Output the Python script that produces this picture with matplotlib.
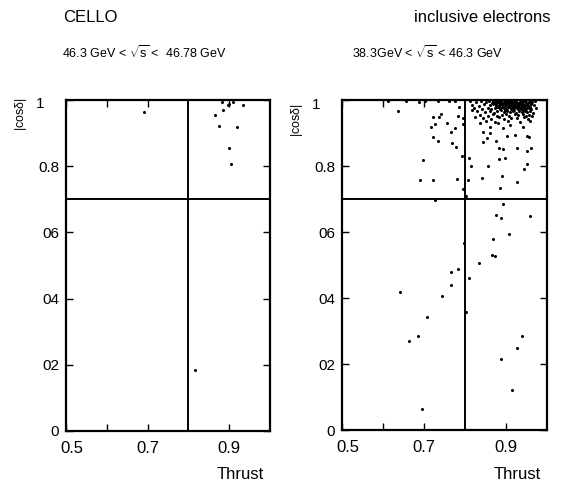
import matplotlib
matplotlib.use("Agg")
import matplotlib.pyplot as plt
from matplotlib.transforms import ScaledTranslation

plt.rcParams['font.family'] = ['Liberation Sans Narrow', 'Liberation Sans', 'DejaVu Sans']
plt.rcParams['mathtext.fontset'] = 'custom'
plt.rcParams['mathtext.rm'] = 'Liberation Sans'
plt.rcParams['mathtext.it'] = 'Liberation Sans'

# left panel: 46.3 < sqrt(s) < 46.78 GeV  (thrust, |cos theta|)
pts_left = [
    (0.690, 0.965), (0.883, 0.994), (0.896, 0.984), (0.899, 0.989), (0.909, 0.994),
    (0.933, 0.984), (0.864, 0.956), (0.884, 0.969), (0.874, 0.921), (0.918, 0.917),
    (0.900, 0.856), (0.905, 0.806), (0.815, 0.184),
]

# right panel: 38.3 < sqrt(s) < 46.3 GeV, sparse part
pts_right = [
    (0.637, 0.966), (0.689, 0.994), (0.721, 0.948), (0.741, 0.959), (0.737, 0.948),
    (0.727, 0.928), (0.717, 0.918), (0.755, 0.931), (0.782, 0.952), (0.786, 0.979),
    (0.794, 0.928), (0.776, 0.915), (0.765, 0.903), (0.723, 0.888), (0.735, 0.875),
    (0.768, 0.870), (0.777, 0.858), (0.792, 0.830), (0.697, 0.817), (0.690, 0.757),
    (0.723, 0.757), (0.781, 0.762), (0.796, 0.730), (0.796, 0.944),
    (0.612, 0.998), (0.655, 0.997), (0.702, 0.998), (0.735, 0.997), (0.760, 0.998),
    (0.775, 0.996),
    (0.810, 0.825), (0.815, 0.801), (0.808, 0.758), (0.841, 0.765), (0.857, 0.801),
    (0.885, 0.732), (0.890, 0.771), (0.884, 0.820), (0.898, 0.823), (0.883, 0.854),
    (0.893, 0.852), (0.928, 0.854), (0.950, 0.845), (0.960, 0.854), (0.952, 0.805),
    (0.945, 0.790), (0.926, 0.751), (0.845, 0.902), (0.861, 0.899), (0.845, 0.874),
    (0.853, 0.884), (0.875, 0.876), (0.902, 0.891), (0.922, 0.894), (0.950, 0.891),
    (0.956, 0.889), (0.861, 0.919), (0.881, 0.929), (0.893, 0.914), (0.910, 0.924),
    (0.942, 0.919), (0.824, 0.949), (0.837, 0.929), (0.816, 0.970), (0.802, 0.710),
    (0.728, 0.697),
    (0.892, 0.684), (0.875, 0.652), (0.887, 0.643), (0.959, 0.648), (0.907, 0.593),
    (0.868, 0.578), (0.867, 0.529), (0.874, 0.527), (0.835, 0.505), (0.810, 0.460),
    (0.797, 0.566), (0.784, 0.487), (0.765, 0.479), (0.765, 0.439), (0.745, 0.407),
    (0.641, 0.419), (0.708, 0.343), (0.686, 0.286), (0.664, 0.271), (0.694, 0.063),
    (0.802, 0.359), (0.940, 0.285), (0.928, 0.249), (0.887, 0.214), (0.915, 0.121),
]

# right panel, dense cluster near thrust 0.9, |cos| ~ 1
pts_cluster = [
    (0.812, 0.996), (0.826, 0.993), (0.838, 0.997), (0.851, 0.994), (0.858, 0.998),
    (0.866, 0.992), (0.872, 0.996), (0.879, 0.999), (0.884, 0.993), (0.889, 0.997),
    (0.893, 0.991), (0.897, 0.995), (0.902, 0.998), (0.906, 0.992), (0.911, 0.996),
    (0.915, 0.999), (0.919, 0.993), (0.924, 0.997), (0.928, 0.991), (0.933, 0.995),
    (0.937, 0.998), (0.942, 0.993), (0.947, 0.996), (0.953, 0.992), (0.958, 0.997),
    (0.964, 0.994), (0.971, 0.998),
    (0.818, 0.986), (0.833, 0.983), (0.846, 0.987), (0.861, 0.984), (0.869, 0.988),
    (0.876, 0.982), (0.882, 0.986), (0.887, 0.989), (0.892, 0.983), (0.899, 0.987),
    (0.904, 0.984), (0.909, 0.988), (0.913, 0.982), (0.917, 0.986), (0.922, 0.989),
    (0.926, 0.983), (0.931, 0.987), (0.936, 0.984), (0.940, 0.988), (0.945, 0.982),
    (0.951, 0.986), (0.957, 0.983), (0.962, 0.987), (0.968, 0.984),
    (0.823, 0.976), (0.842, 0.973), (0.856, 0.977), (0.864, 0.972), (0.874, 0.976),
    (0.881, 0.979), (0.886, 0.973), (0.894, 0.977), (0.900, 0.974), (0.907, 0.978),
    (0.912, 0.972), (0.918, 0.976), (0.923, 0.979), (0.929, 0.973), (0.934, 0.977),
    (0.939, 0.974), (0.944, 0.978), (0.949, 0.972), (0.955, 0.976), (0.961, 0.973),
    (0.973, 0.977),
    (0.829, 0.966), (0.848, 0.963), (0.862, 0.967), (0.871, 0.962), (0.879, 0.966),
    (0.888, 0.969), (0.896, 0.963), (0.903, 0.967), (0.910, 0.964), (0.916, 0.968),
    (0.925, 0.962), (0.932, 0.966), (0.938, 0.963), (0.946, 0.967), (0.952, 0.964),
    (0.959, 0.968), (0.966, 0.962),
    (0.836, 0.956), (0.857, 0.953), (0.868, 0.957), (0.877, 0.952), (0.891, 0.956),
    (0.899, 0.959), (0.908, 0.953), (0.921, 0.957), (0.930, 0.954), (0.941, 0.958),
    (0.948, 0.952), (0.956, 0.956), (0.963, 0.953),
    (0.844, 0.946), (0.863, 0.943), (0.883, 0.947), (0.895, 0.942), (0.912, 0.946),
    (0.927, 0.944), (0.943, 0.947), (0.954, 0.943),
    (0.852, 0.936), (0.874, 0.933), (0.905, 0.937), (0.934, 0.934), (0.958, 0.936),
    (0.870, 0.990), (0.877, 0.994), (0.886, 0.991), (0.895, 0.999), (0.900, 0.990),
    (0.908, 0.995), (0.917, 0.990), (0.921, 0.999), (0.930, 0.992), (0.935, 0.989),
    (0.944, 0.999), (0.949, 0.990), (0.878, 0.980), (0.890, 0.978), (0.905, 0.980),
    (0.915, 0.979), (0.927, 0.981), (0.938, 0.980), (0.950, 0.979), (0.897, 0.970),
    (0.920, 0.969), (0.942, 0.970),
    (0.868, 0.997), (0.875, 0.988), (0.881, 0.995), (0.891, 0.987), (0.898, 0.981),
    (0.903, 0.993), (0.910, 0.983), (0.914, 0.993), (0.920, 0.984), (0.925, 0.993),
    (0.929, 0.986), (0.934, 0.999), (0.939, 0.992), (0.943, 0.986), (0.948, 0.999),
    (0.952, 0.989), (0.955, 0.995), (0.960, 0.990), (0.884, 0.983), (0.895, 0.990),
    (0.906, 0.987), (0.916, 0.975), (0.926, 0.977), (0.936, 0.972), (0.946, 0.975),
    (0.885, 0.976), (0.902, 0.971), (0.912, 0.990), (0.932, 0.980), (0.958, 0.979),
]

xticks = [0.5, 0.6, 0.7, 0.9]
xticklabels = ['0.5', '', '0.7', '0.9']
yticks = [0, 0.2, 0.4, 0.6, 0.8, 1.0]
yticklabels = ['0', '02', '04', '06', '0.8', '1']
thrust_cut = 0.8
cos_cut = 0.7

W, H = 562, 483
fig = plt.figure(figsize=(W / 100, H / 100), dpi=100)
ax1 = fig.add_axes([66 / W, 52 / H, 204 / W, 331 / H])
ax2 = fig.add_axes([342 / W, 53 / H, 205 / W, 330 / H])


def setup(ax, pts):
    xs = [p[0] for p in pts]
    ys = [p[1] for p in pts]
    ax.plot(xs, ys, 'o', color='k', ms=2.2, mew=0, clip_on=False)
    ax.axvline(thrust_cut, color='k', lw=1.4)
    ax.axhline(cos_cut, color='k', lw=1.4)
    ax.set_xlim(0.5, 1.0)
    ax.set_ylim(0, 1)
    ax.set_xticks(xticks)
    ax.set_xticklabels(xticklabels, fontsize=12)
    ax.set_yticks(yticks)
    ax.set_yticklabels(yticklabels, fontsize=11)
    ax.tick_params(direction='in', top=True, right=True, length=5, width=1.0)
    ax.tick_params(axis='x', pad=7)
    ax.tick_params(axis='y', pad=5)
    for s in ax.spines.values():
        s.set_linewidth(1.6)
    # the "0.5" sits a little right of its tick, the "1" further left
    lab = ax.get_xticklabels()[0]
    lab.set_transform(lab.get_transform() + ScaledTranslation(0.06, 0, fig.dpi_scale_trans))
    lab = ax.get_yticklabels()[-1]
    lab.set_transform(lab.get_transform() + ScaledTranslation(-0.15, -0.03, fig.dpi_scale_trans))


setup(ax1, pts_left)
setup(ax2, pts_right + pts_cluster)

fig.text(63 / W, 1 - 17 / H, 'CELLO', fontsize=12, va='center', ha='left')
fig.text(550 / W, 1 - 17 / H, 'inclusive electrons', fontsize=12, va='center', ha='right')
fig.text(62 / W, 1 - 53 / H, r'46.3 GeV < $\sqrt{\mathrm{s}}$ <  46.78 GeV', fontsize=9,
         va='center', ha='left')
fig.text(352 / W, 1 - 53 / H, r'38.3GeV < $\sqrt{\mathrm{s}}$ < 46.3 GeV', fontsize=9,
         va='center', ha='left')
fig.text(21 / W, 1 - 114 / H, r'|cos$\delta$|', fontsize=9, rotation=90, va='center', ha='center')
fig.text(297 / W, 1 - 120 / H, r'|cos$\delta$|', fontsize=9, rotation=90, va='center', ha='center')
fig.text(264 / W, 1 - 479 / H, 'Thrust', fontsize=12, va='baseline', ha='right')
fig.text(541 / W, 1 - 479 / H, 'Thrust', fontsize=12, va='baseline', ha='right')

fig.savefig('out.png', dpi=100)
